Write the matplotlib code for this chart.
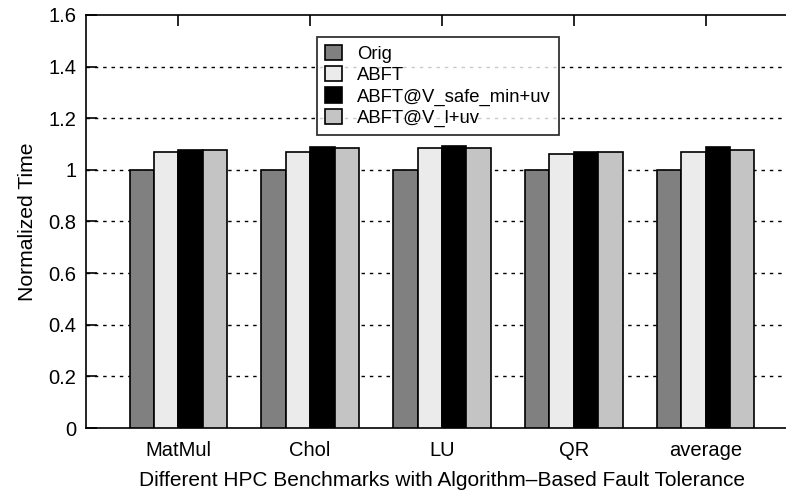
import matplotlib
matplotlib.use("Agg")
import matplotlib.pyplot as plt
import numpy as np

categories = ["MatMul", "Chol", "LU", "QR", "average"]
series_names = ["Orig", "ABFT", "ABFT@V_safe_min+uv", "ABFT@V_l+uv"]
orig = [1.0, 1.0, 1.0, 1.0, 1.0]
abft = [1.069, 1.07, 1.084, 1.061, 1.069]
abft_safe_min = [1.077, 1.088, 1.094, 1.071, 1.088]
abft_l = [1.077, 1.084, 1.084, 1.069, 1.078]
yticks = [0, 0.2, 0.4, 0.6, 0.8, 1.0, 1.2, 1.4, 1.6]
ytick_labels = ["0", "0.2", "0.4", "0.6", "0.8", "1", "1.2", "1.4", "1.6"]

series = [orig, abft, abft_safe_min, abft_l]
colors = ["#808080", "#ebebeb", "#000000", "#c4c4c4"]

plt.rcParams['font.family'] = ['Liberation Sans', 'DejaVu Sans']
W, H = 786, 494
fig = plt.figure(figsize=(W / 100, H / 100), dpi=100)
ax = fig.add_axes([86 / W, (H - 428) / H, (798 - 86) / W, (428 - 15) / H])

x = np.arange(len(categories))
bw = 0.185
for i, (vals, c) in enumerate(zip(series, colors)):
    ax.bar(x + (i - 1.5) * bw, vals, bw, color=c, edgecolor="black",
           linewidth=1.2, label=series_names[i], zorder=3)

ax.set_xlim(-0.7, len(categories) - 1 + 0.7)
ax.set_ylim(0, 1.6)
ax.set_yticks(yticks)
ax.set_yticklabels(ytick_labels)
ax.set_xticks(x)
ax.set_xticklabels(categories)
for y in yticks[1:-1]:
    ax.axhline(y, color="black", linewidth=1.0, linestyle=(0, (2.5, 3.5)), zorder=1)

ax.tick_params(axis="y", direction="in", length=8, width=1.2, labelsize=14.5,
               right=True, pad=7)
ax.tick_params(axis="x", direction="in", length=8, width=1.2, labelsize=14.5,
               top=True, bottom=False, pad=9)
for s in ax.spines.values():
    s.set_linewidth(1.2)

ax.set_ylabel("Normalized Time", fontsize=15.2, labelpad=8)
ax.set_xlabel("Different HPC Benchmarks with Algorithm\u2013Based Fault Tolerance",
              fontsize=15, labelpad=8)

leg = ax.legend(loc="upper left", bbox_to_anchor=((317 - 86) / (798 - 86), (428 - 37) / 413),
                fontsize=13.3, frameon=True, fancybox=False, handlelength=0.92,
                handleheight=0.88, labelspacing=0.17, handletextpad=0.8,
                borderaxespad=0, borderpad=0.45)
leg.get_frame().set_edgecolor("black")
leg.get_frame().set_linewidth(1.3)

fig.savefig("out.png", dpi=100)
